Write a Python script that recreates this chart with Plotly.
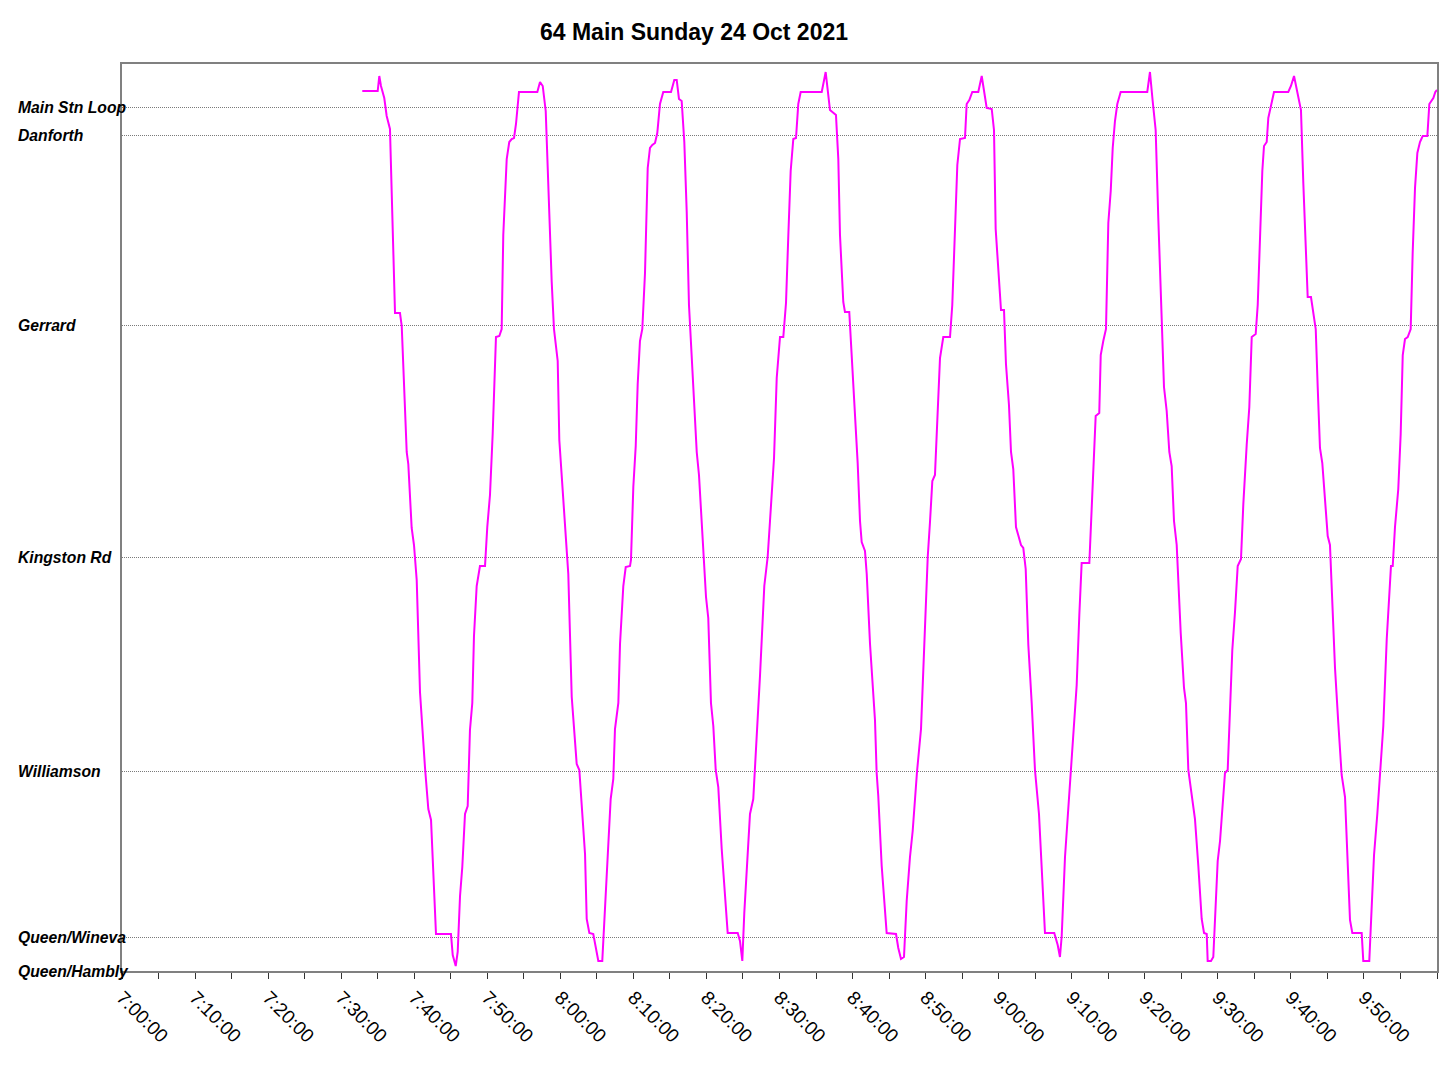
import pandas as pd
import plotly.graph_objects as go

# Stops (position along route, Queen/Hambly = 0)
stop_names = ["Queen/Hambly", "Queen/Wineva", "Williamson", "Kingston Rd", "Gerrard", "Danforth", "Main Stn Loop"]
stop_pos = [0, 34, 200, 414, 646, 836, 864]

# Vehicle track: minutes after 7:00 and position along route
t_min = [32.89, 35.00, 35.22, 35.45, 35.90, 36.23, 36.68, 37.37, 38.05, 38.29, 38.97, 39.19, 39.65, 39.97,
         40.34, 40.79, 41.48, 41.93, 42.30, 42.98, 45.03, 45.27, 45.68, 45.95, 46.27, 46.58, 46.95, 47.32,
         47.63, 47.95, 48.18, 48.55, 49.00, 49.69, 50.00, 50.37, 50.74, 51.19, 51.65, 51.97, 52.19, 52.66,
         53.01, 53.34, 53.66, 53.93, 54.34, 56.85, 57.22, 57.59, 58.00, 58.35, 58.82, 59.13, 59.64, 59.86,
         60.41, 60.87, 61.09, 61.56, 61.87, 62.24, 62.60, 62.92, 63.38, 63.61, 63.97, 64.51, 64.79, 65.20,
         65.74, 66.11, 66.48, 66.89, 67.25, 67.48, 67.94, 68.17, 68.62, 68.95, 69.54, 69.67, 69.99, 70.32,
         70.59, 70.90, 71.22, 71.59, 71.96, 72.27, 72.59, 72.96, 73.27, 73.64, 74.09, 75.15, 75.60, 75.93,
         76.24, 76.61, 76.97, 77.30, 77.61, 77.98, 78.43, 78.67, 78.98, 79.43, 79.94, 80.25, 80.62, 80.94,
         81.27, 81.62, 82.09, 82.91, 84.28, 84.59, 84.91, 85.18, 85.65, 85.96, 86.41, 86.88, 87.33, 87.92,
         88.38, 88.70, 89.25, 89.62, 90.07, 90.52, 90.89, 91.21, 91.53, 91.89, 92.26, 92.57, 92.90, 95.78,
         96.32, 96.91, 97.36, 97.73, 98.05, 98.28, 98.73, 98.96, 99.55, 99.88, 100.33, 100.70, 101.02,
         101.25, 101.70, 101.94, 102.39, 102.84, 103.07, 103.30, 103.52, 103.99, 104.67, 105.95, 106.26,
         106.63, 107.04, 107.41, 107.86, 108.23, 108.82, 109.37, 109.68, 110.01, 110.29, 110.60, 110.92,
         111.28, 111.65, 111.97, 112.42, 113.34, 113.65, 114.02, 114.34, 114.71, 115.39, 115.62, 115.98,
         116.39, 117.21, 117.68, 118.36, 119.05, 119.36, 119.59, 119.95, 120.32, 120.73, 121.00, 121.41,
         121.69, 122.00, 122.37, 123.06, 123.37, 123.70, 124.06, 124.52, 124.97, 125.52, 125.89, 126.34,
         127.61, 128.08, 128.39, 128.63, 129.08, 129.53, 130.00, 130.68, 131.04, 131.36, 132.41, 132.95,
         133.28, 133.77, 133.97, 134.32, 134.69, 135.01, 135.34, 135.61, 135.92, 136.24, 136.70, 140.34,
         140.71, 141.08, 141.49, 141.85, 142.32, 142.63, 143.00, 143.36, 143.68, 144.00, 144.37, 144.92,
         145.37, 145.64, 145.96, 146.29, 146.87, 147.33, 147.79, 148.11, 148.48, 148.61, 149.06, 149.38,
         149.61, 149.98, 150.30, 150.61, 150.98, 151.35, 151.66, 151.98, 152.35, 152.72, 153.17, 153.49,
         153.95, 154.31, 154.64, 155.18, 155.46, 155.77, 156.09, 156.32, 156.69, 156.91, 157.24, 157.69,
         159.64, 160.01, 160.43, 160.80, 161.38, 161.70, 162.03, 162.30, 162.75, 163.07, 163.40, 163.67,
         163.98, 164.30, 164.67, 165.04, 165.35, 165.59, 165.72, 166.04, 166.49, 166.95, 167.41, 167.86,
         168.09, 168.41, 169.69, 169.91, 170.73, 171.06, 171.38, 171.83, 172.20, 172.65, 173.12, 173.57,
         173.70, 173.94, 174.25, 174.70, 175.03, 175.31, 175.62, 175.99, 176.40, 176.67, 176.99, 177.31,
         177.67, 178.04, 178.68, 178.95, 179.50, 179.77, 180.00]
pos = [880, 880, 895, 885, 873, 855, 842, 658, 658, 645, 519, 507, 443, 426,
       391, 279, 203, 162, 151, 37, 37, 16, 5, 19, 75, 104, 157, 165,
       241, 268, 335, 385, 405, 405, 444, 476, 537, 634, 635, 642, 736, 812,
       829, 832, 833, 847, 879, 879, 889, 885, 860, 783, 689, 642, 610, 531,
       473, 426, 397, 274, 245, 207, 201, 163, 117, 52, 38, 37, 26, 10,
       10, 64, 122, 172, 192, 242, 268, 327, 385, 404, 405, 411, 484, 525,
       587, 630, 642, 698, 803, 823, 826, 828, 838, 867, 879, 879, 891, 891,
       872, 870, 829, 759, 666, 619, 561, 519, 496, 432, 374, 353, 268, 245,
       201, 184, 122, 38, 38, 30, 10, 58, 111, 157, 172, 233, 295, 385,
       414, 450, 513, 593, 634, 634, 668, 736, 800, 832, 833, 867, 879, 879,
       899, 861, 858, 856, 812, 736, 669, 659, 659, 619, 560, 508, 450,
       429, 420, 397, 327, 274, 251, 198, 175, 105, 38, 37, 23,
       12, 14, 70, 114, 140, 199, 242, 303, 350, 414, 449, 490,
       496, 563, 613, 634, 634, 666, 733, 806, 832, 833, 867, 871,
       879, 879, 895, 863, 862, 841, 742, 701, 661, 661, 607, 566,
       519, 502, 444, 426, 423, 402, 326, 268, 201, 157, 105, 38,
       38, 26, 14, 35, 114, 163, 210, 286, 356, 408, 408, 490,
       555, 558, 616, 630, 642, 748, 780, 823, 850, 867, 879, 879,
       899, 870, 841, 753, 660, 584, 560, 519, 505, 450, 426, 338,
       283, 268, 201, 184, 152, 105, 52, 38, 37, 10, 10, 14,
       52, 110, 130, 165, 198, 201, 263, 321, 359, 405, 412, 467,
       526, 564, 634, 637, 666, 736, 800, 825, 829, 853, 864, 879,
       879, 885, 895, 882, 861, 788, 718, 674, 674, 660, 642, 584,
       523, 508, 473, 435, 426, 385, 355, 303, 248, 196, 174, 92,
       51, 38, 38, 10, 10, 64, 116, 157, 201, 245, 332, 396,
       405, 405, 444, 482, 537, 616, 632, 634, 642, 718, 783, 818,
       829, 835, 835, 867, 873, 879, 881]

base = pd.Timestamp("2021-10-24 07:00:00")
times = [base + pd.Timedelta(minutes=m) for m in t_min]

FONT = "Arial, 'Liberation Sans', sans-serif"

W, H = 1447, 1058
ML, MR, MT, MB = 114, 18, 56, 95
PLOT_W = W - ML - MR

fig = go.Figure()
fig.add_trace(go.Scatter(x=times, y=pos, mode="lines",
                         line=dict(color="#FF00FF", width=2), showlegend=False))

for name, p in zip(stop_names, stop_pos):
    fig.add_annotation(x=(8 - ML) / PLOT_W, xref="paper", y=p, yref="y",
                       text="<b><i>" + name + "</i></b>", showarrow=False,
                       xanchor="left", yanchor="middle",
                       font=dict(family=FONT, size=15.7, color="black"))

fig.update_layout(
    width=W, height=H,
    margin=dict(l=ML, r=MR, t=MT, b=MB),
    paper_bgcolor="white", plot_bgcolor="white",
    title=dict(text="<b>64 Main Sunday 24 Oct 2021</b>", x=686 / W, xref="container",
               xanchor="center", y=1 - 24 / H, yref="container", yanchor="middle",
               font=dict(family=FONT, size=23, color="black")),
    font=dict(family=FONT, color="black"),
)

fig.update_xaxes(
    type="date",
    range=[base, base + pd.Timedelta(minutes=180)],
    tick0=base, dtick=10 * 60 * 1000, tickformat="%-H:%M:%S",
    tickangle=45, tickfont=dict(family=FONT, size=19, color="black"),
    ticks="outside", ticklen=6, tickcolor="#333333", tickwidth=1,
    minor=dict(dtick=5 * 60 * 1000, ticks="outside", ticklen=6, tickcolor="#333333", tickwidth=1,
               showgrid=False),
    showgrid=False, zeroline=False,
    showline=True, linecolor="#808080", linewidth=2, mirror=True,
)

fig.update_yaxes(
    range=[0, 907],
    tickvals=stop_pos, ticktext=[""] * len(stop_pos), showticklabels=False,
    ticks="",
    showgrid=True, gridcolor="#7a7a7a", gridwidth=1, griddash="1px,1px",
    zeroline=False,
    showline=True, linecolor="#808080", linewidth=2, mirror=True,
)

fig.write_html("out.html")
